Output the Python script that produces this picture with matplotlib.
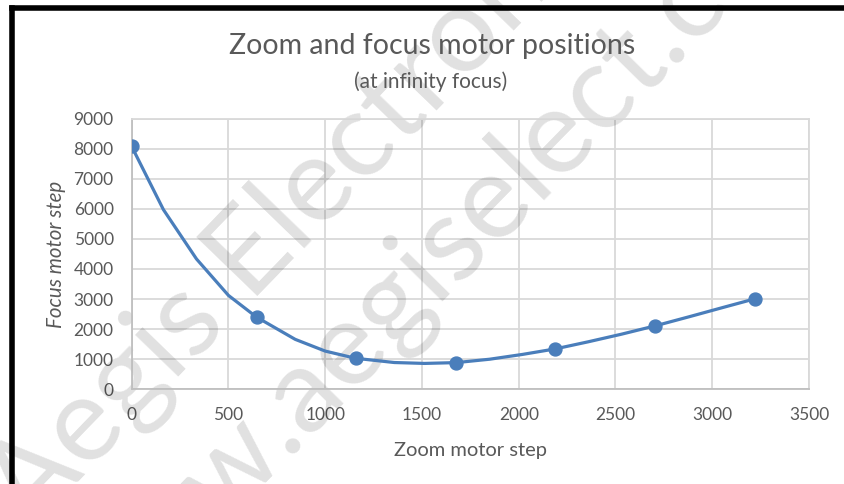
import matplotlib
matplotlib.use("Agg")
import matplotlib.pyplot as plt
from matplotlib.lines import Line2D

# data
curve_x = [0, 164, 335, 500, 645, 845, 1000, 1157, 1357, 1513, 1677,
           1850, 2020, 2189, 2360, 2530, 2706, 2880, 3050, 3222]
curve_y = [8070, 5970, 4330, 3120, 2400, 1660, 1270, 1030, 890, 860, 887,
           1000, 1160, 1343, 1580, 1830, 2110, 2410, 2710, 3010]
marker_x = [0, 645, 1157, 1677, 2189, 2706, 3222]
marker_y = [8070, 2400, 1030, 887, 1343, 2110, 3010]
x_ticks = [0, 500, 1000, 1500, 2000, 2500, 3000, 3500]
y_ticks = [0, 1000, 2000, 3000, 4000, 5000, 6000, 7000, 8000, 9000]

title = "Zoom and focus motor positions"
subtitle = "(at infinity focus)"
xlabel = "Zoom motor step"
ylabel = "Focus motor step"
watermarks = ["Aegis Electronic Group", "www.aegiselect.com"]

plt.rcParams['font.family'] = ['Lato', 'DejaVu Sans']
txt_col = '#595959'
blue = '#4A7EBB'
grid_col = '#D9D9D9'

W, H = 844, 484
fig = plt.figure(figsize=(W / 100, H / 100), dpi=100)
ax = fig.add_axes([131.7 / W, 1 - 389.3 / H, (809 - 131.7) / W, (389.3 - 118.5) / H])

ax.plot(curve_x, curve_y, color=blue, lw=2.3, zorder=3, solid_capstyle='round')
ax.plot(marker_x, marker_y, 'o', color=blue, ms=9.3, zorder=4)

ax.set_xlim(0, 3500)
ax.set_ylim(0, 9000)
ax.set_xticks(x_ticks)
ax.set_yticks(y_ticks)
ax.grid(True, color=grid_col, lw=1.3)
ax.set_axisbelow(True)
for s in ['top', 'right']:
    ax.spines[s].set_color(grid_col)
    ax.spines[s].set_linewidth(1.3)
for s in ['left', 'bottom']:
    ax.spines[s].set_color('#BFBFBF')
    ax.spines[s].set_linewidth(1.3)
ax.tick_params(length=0, labelsize=12.5, labelcolor=txt_col)
ax.tick_params(axis='y', pad=13)
ax.tick_params(axis='x', pad=13)

fig.text(432 / W, 1 - 54 / H, title, ha='center', va='baseline', fontsize=20.5, color=txt_col)
fig.text(431 / W, 1 - 88 / H, subtitle, ha='center', va='baseline', fontsize=15, color=txt_col)
fig.text(470 / W, 1 - 456 / H, xlabel, ha='center', va='baseline', fontsize=14.5, color=txt_col)
fig.text(62 / W, 1 - 254 / H, ylabel, ha='center', va='baseline', rotation=90,
         rotation_mode='anchor', fontsize=14.8, style='italic', color=txt_col)

# watermark
wm_pos = [(30, 532), (90, 660)]
wm_rot = [46, 45.5]
for s, (px, py), r in zip(watermarks, wm_pos, wm_rot):
    ax.text(px / W, 1 - py / H, s, transform=fig.transFigure, family='Lato',
            fontsize=86, color='black', alpha=0.12, rotation=r, rotation_mode='anchor',
            ha='left', va='baseline', zorder=2, clip_on=False)

# black frame edges
fig.add_artist(Line2D([11.5 / W, 11.5 / W], [0, 1 - 8 / H], color='black', lw=4,
                      transform=fig.transFigure))
fig.add_artist(Line2D([11.5 / W, 1], [1 - 8 / H, 1 - 8 / H], color='black', lw=4,
                      transform=fig.transFigure, solid_capstyle='projecting'))

fig.savefig('out.png', dpi=100)
